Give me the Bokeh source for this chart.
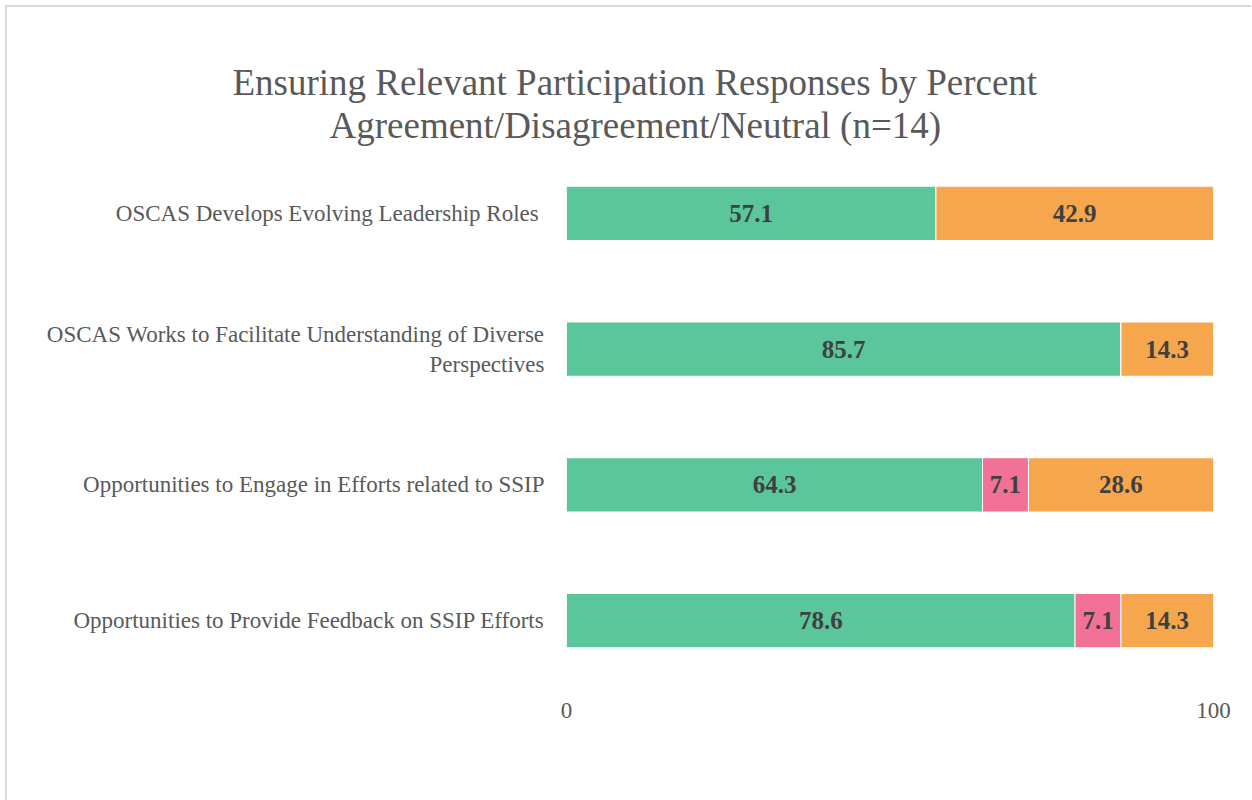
from bokeh.plotting import figure
from bokeh.models import ColumnDataSource, FixedTicker, Legend, LegendItem, LabelSet, Range1d, Title
from bokeh.embed import file_html
from bokeh.resources import INLINE
from bokeh.core.properties import value

# ---- data ----
categories = [
    "OSCAS  Develops Evolving Leadership Roles",
    "OSCAS Works to Facilitate Understanding of Diverse\nPerspectives",
    "Opportunities to Engage in Efforts related to SSIP",
    "Opportunities to Provide Feedback on SSIP Efforts",
]
series = ["Agreement", "Disagreement", "Neutral"]
agreement = [57.1, 85.7, 64.3, 78.6]
disagreement = [0.0, 0.0, 7.1, 7.1]
neutral = [42.9, 14.3, 28.6, 14.3]
colors = ["#5BC69C", "#F17197", "#F6A74D"]
x_ticks = [0, 100]
title_lines = ["Ensuring Relevant Participation Responses by Percent",
               "Agreement/Disagreement/Neutral (n=14)"]

FONT = "Liberation Serif"
GRAY = "#595959"

source = ColumnDataSource(data=dict(cat=categories, Agreement=agreement,
                                    Disagreement=disagreement, Neutral=neutral))

p = figure(frame_width=647, frame_height=543, y_range=list(reversed(categories)),
           x_range=Range1d(0, 100), output_backend="svg", toolbar_location=None,
           min_border_left=559, min_border_right=38, min_border_top=138,
           min_border_bottom=0)
p.title = None
p.outline_line_color = None
p.styles = {"border-left": "2px solid #D9D9D9", "border-top": "2px solid #D9D9D9",
            "margin-left": "5px", "margin-top": "5px"}

renderers = p.hbar_stack(series, y="cat", height=0.4, color=colors, source=source,
                         line_color="white", line_width=1)

# data labels
lx, ly, lt = [], [], []
vals = [agreement, disagreement, neutral]
for i, c in enumerate(categories):
    left = 0.0
    for s in vals:
        v = s[i]
        if v > 0:
            lx.append(left + v / 2)
            ly.append(c)
            lt.append(f"{v:.1f}")
        left += v
lsrc = ColumnDataSource(data=dict(x=lx, y=ly, text=lt))
p.add_layout(LabelSet(x="x", y="y", text="text", source=lsrc, text_align="center",
                      text_baseline="middle", text_font=value(FONT), text_font_style="bold",
                      text_font_size="25px", text_color="#404040"))

# axes
p.xaxis.ticker = FixedTicker(ticks=x_ticks)
p.xaxis.axis_line_color = None
p.xaxis.major_tick_line_color = None
p.xaxis.major_tick_out = 0
p.xaxis.minor_tick_line_color = None
p.xaxis.major_label_text_font = FONT
p.xaxis.major_label_text_font_size = "23px"
p.xaxis.major_label_text_color = GRAY
p.xaxis.major_label_standoff = 14

p.yaxis.axis_line_color = None
p.yaxis.major_tick_line_color = None
p.yaxis.major_tick_out = 0
p.yaxis.major_label_text_font = FONT
p.yaxis.major_label_text_font_size = "23px"
p.yaxis.major_label_text_color = GRAY
p.yaxis.major_label_standoff = 22
# the two-line category label is drawn centred, as in the original
p.yaxis.major_label_overrides = {categories[1]: ""}
msrc = ColumnDataSource(data=dict(x=[-280], y=[categories[1]], text=[categories[1]]))
p.add_layout(LabelSet(x="x", y="y", text="text", source=msrc, x_units="screen",
                      text_align="center", text_baseline="middle", text_font=value(FONT),
                      text_font_size="23px", text_color=GRAY))

p.xgrid.ticker = FixedTicker(ticks=x_ticks)
p.xgrid.grid_line_color = "#D9D9D9"
p.xgrid.grid_line_width = 1.5
p.ygrid.grid_line_color = None

# legend under the axis
legend = Legend(items=[LegendItem(label=s, renderers=[r]) for s, r in zip(series, renderers)],
                orientation="horizontal", location="top_center",
                label_text_font=FONT, label_text_font_size="23px", label_text_color=GRAY,
                glyph_width=12, glyph_height=12, spacing=32, label_standoff=6,
                border_line_color=None, background_fill_alpha=0, padding=0, margin=7)
p.add_layout(legend, "below")

# titles (added nearest-first)
p.add_layout(Title(text=title_lines[1], align="left", offset=-237, text_font=FONT,
                   text_font_size="37px", text_color=GRAY, text_font_style="normal",
                   standoff=0), "above")
p.add_layout(Title(text=title_lines[0], align="left", offset=-334, text_font=FONT,
                   text_font_size="37px", text_color=GRAY, text_font_style="normal",
                   standoff=0), "above")

open("out.html", "w").write(file_html(p, INLINE))
